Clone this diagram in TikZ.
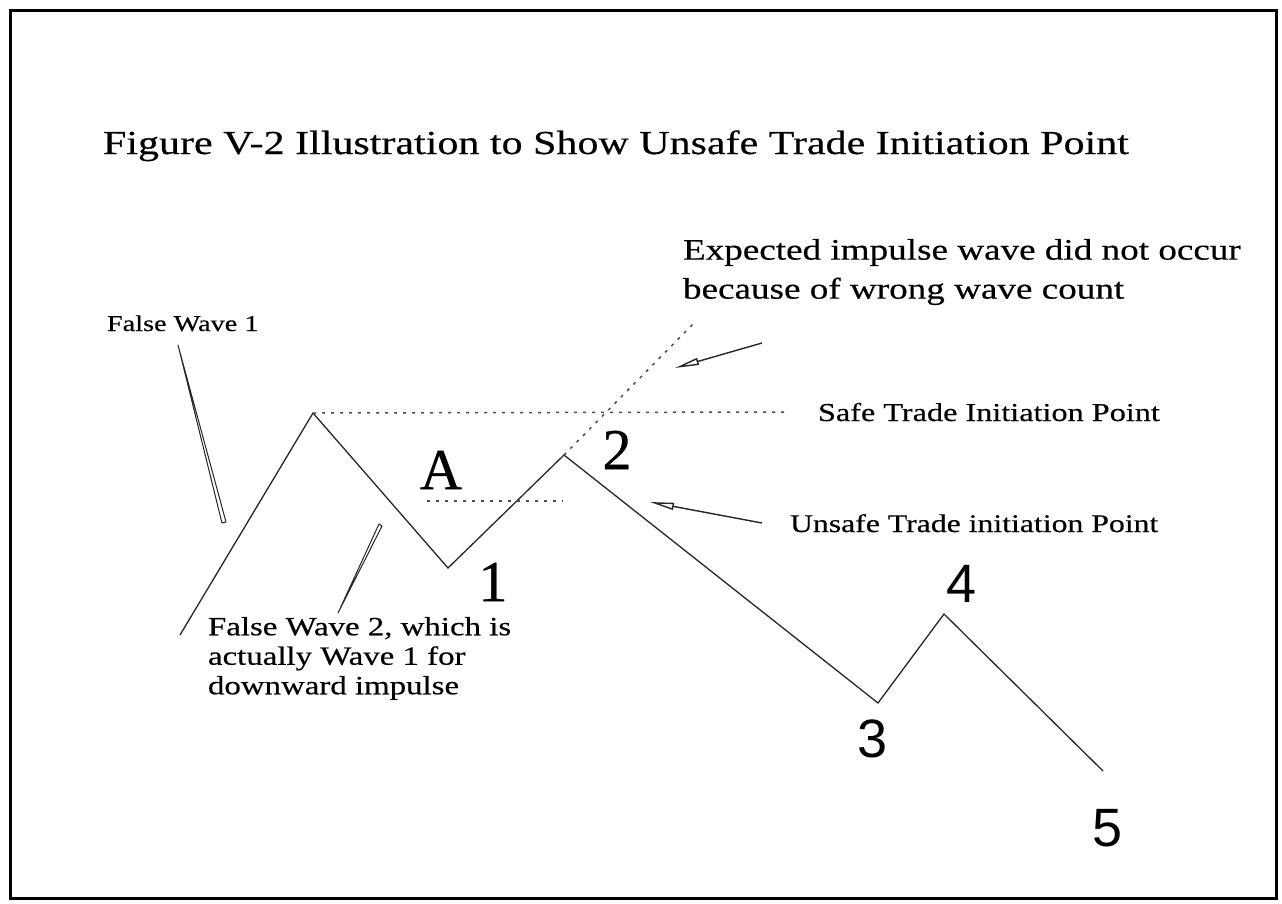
\documentclass[tikz,border=0pt]{standalone}
\usepackage{fontspec}
\setmainfont{Liberation Serif}[FakeStretch=1.25,FakeBold=0.4]
\newfontfamily\numserif{Liberation Serif}[FakeBold=0.6]
\newfontfamily\numsans{Liberation Sans}
\usetikzlibrary{arrows.meta}
\begin{document}
\begin{tikzpicture}[x=1pt,y=-1pt,
  txt/.style={inner sep=0pt,outer sep=0pt,anchor=base west,align=left},
  wave/.style={line width=1.3pt,black!85},
  dots/.style={line width=1.5pt,black!70,dash pattern=on 3pt off 6pt},
  pointer/.style={line width=1pt,black!85,fill=white,line join=round},
  callout/.style={line width=1.4pt,black!85,-{Triangle[open,length=24pt,width=7pt]}},
  bignum/.style={inner sep=0pt,anchor=center,font=\numserif\fontsize{58}{58}\selectfont},
  bigsans/.style={inner sep=0pt,anchor=center,font=\numsans\fontsize{54}{54}\selectfont}]
\useasboundingbox (0,0) rectangle (1282,903);
\draw[line width=3pt] (10,10) rectangle (1276,898);
% title
\node[txt,font=\fontsize{33.6}{38}\selectfont] (title) at (103,154) {Figure V-2 Illustration to Show Unsafe Trade Initiation Point};
% wave vertices
\coordinate (w0) at (180,635);
\coordinate (w1) at (313,413);
\coordinate (w2) at (448,568);
\coordinate (w3) at (564,455);
\coordinate (w4) at (878,703);
\coordinate (w5) at (944,614);
\coordinate (w6) at (1103,771);
\draw[wave,line join=miter] (w0) -- (w1) -- (w2) -- (w3) -- (w4) -- (w5) -- (w6);
% dotted guides
\coordinate (safeEnd) at (787,412);
\coordinate (aStart) at (427,501);
\coordinate (aEnd) at (563,501);
\coordinate (expEnd) at (695,322);
\draw[dots] (w1) -- (safeEnd);
\draw[dots] (aStart) -- (aEnd);
\draw[dots] (w3) -- (expEnd);
% labels
\node[txt,font=\fontsize{22.6}{26}\selectfont] (fw1) at (107,331) {False Wave 1};
\node[txt,font=\fontsize{29.7}{39}\selectfont,anchor=north west] (exp) at (683,239) {Expected impulse wave did not occur\\because of wrong wave count};
\node[txt,font=\fontsize{25.8}{30}\selectfont] (safe) at (818,421) {Safe Trade Initiation Point};
\node[txt,font=\fontsize{25.4}{30}\selectfont] (unsafe) at (790,532) {Unsafe Trade initiation Point};
\node[txt,font=\fontsize{26.3}{29.5}\selectfont,anchor=north west] (fw2) at (208,617) {False Wave 2, which is\\actually Wave 1 for\\downward impulse};
% wave numbers
\node[bignum] (lA) at (441,470) {A};
\node[bignum] (l1) at (493,582) {1};
\node[bignum] (l2) at (617,450) {2};
\node[bigsans] (l3) at (873,739) {3};
\node[bigsans] (l4) at (962,584) {4};
\node[bigsans] (l5) at (1108,828) {5};
% pointers (thin wedges)
\coordinate (p1tip) at (178,345);
\coordinate (p1a) at (222,523);
\coordinate (p1b) at (226,522);
\draw[pointer] (p1tip) -- (p1a) -- (p1b) -- cycle;
\coordinate (p2tip) at (338,613);
\coordinate (p2a) at (379,524);
\coordinate (p2b) at (382,526);
\draw[pointer] (p2tip) -- (p2a) -- (p2b) -- cycle;
% callout arrows
\coordinate (c1s) at (762,343);
\coordinate (c1e) at (675,368);
\draw[callout] (c1s) -- (c1e);
\coordinate (c2s) at (762,523);
\coordinate (c2e) at (650,502);
\draw[callout] (c2s) -- (c2e);
\end{tikzpicture}
\end{document}
